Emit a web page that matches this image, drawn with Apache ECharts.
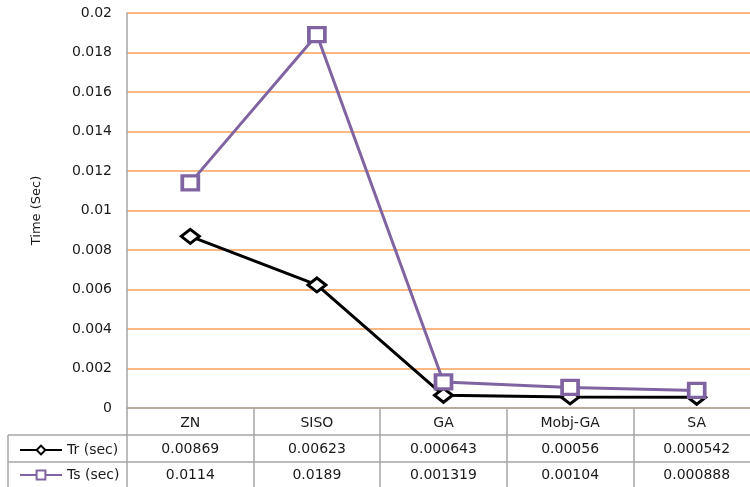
<!DOCTYPE html>
<html>
<head>
<meta charset="utf-8">
<script src="https://cdn.jsdelivr.net/npm/echarts@6/dist/echarts.min.js"></script>
<style>
  html, body { margin: 0; padding: 0; background: #fff; }
  #chart { width: 750px; height: 487px; }
</style>
</head>
<body>
<div id="chart"></div>
<script>
// Methods compared
const categories = ['ZN', 'SISO', 'GA', 'Mobj-GA', 'SA'];
// Rise time and settling time per method (seconds)
const trValues = [0.00869, 0.00623, 0.000643, 0.00056, 0.000542];
const tsValues = [0.0114, 0.0189, 0.001319, 0.00104, 0.000888];
// Table cell text, as printed
const trLabels = ['0.00869', '0.00623', '0.000643', '0.00056', '0.000542'];
const tsLabels = ['0.0114', '0.0189', '0.001319', '0.00104', '0.000888'];
const seriesNames = ['Tr (sec)', 'Ts (sec)'];

const FONT = '"DejaVu Sans", Verdana, sans-serif';
const TEXT = '#1a1a1a';
const RULE = '#a6a6a6';
const ORANGE = '#F9A15A';
const PURPLE = '#8064A2';

const chart = echarts.init(document.getElementById('chart'), null, { renderer: 'canvas' });

// One category axis per table row; the axis line draws the row's top rule
function tableAxis(offset, labels, margin) {
  return {
    type: 'category',
    data: categories,
    position: 'bottom',
    offset: offset,
    boundaryGap: true,
    axisLine: { show: true, lineStyle: { color: RULE, width: 1.5 } },
    axisTick: { show: false },
    axisLabel: {
      show: true,
      margin: margin,
      fontFamily: FONT,
      fontSize: 14,
      color: TEXT,
      formatter: (v, i) => labels ? labels[i] : v
    },
    splitLine: { show: false }
  };
}

const legendText = { fontFamily: FONT, fontSize: 14, color: TEXT };

const option = {
  animation: false,
  backgroundColor: '#fff',
  // the last column runs a little past the right edge of the canvas
  grid: { left: 127, width: 633, top: 13, bottom: 79, containLabel: false, outerBoundsMode: 'none' },
  legend: [
    {
      data: [seriesNames[0]], left: 14, top: 438, itemWidth: 42, itemHeight: 11,
      textStyle: legendText, selectedMode: false
    },
    {
      data: [seriesNames[1]], left: 14, top: 463, itemWidth: 42, itemHeight: 11,
      textStyle: legendText, selectedMode: false
    }
  ],
  xAxis: [
    Object.assign(tableAxis(0, null, 8), {
      axisTick: { show: true, length: 80, lineStyle: { color: RULE, width: 1.5 } }
    }),
    tableAxis(27, trLabels, 7),
    tableAxis(54, tsLabels, 6)
  ],
  yAxis: {
    type: 'value',
    min: 0,
    max: 0.02,
    interval: 0.002,
    name: 'Time (Sec)',
    nameLocation: 'middle',
    nameGap: 84,
    nameRotate: 90,
    nameTextStyle: { fontFamily: FONT, fontSize: 13, color: TEXT },
    axisLine: { show: true, lineStyle: { color: RULE, width: 1.5 } },
    axisTick: { show: false },
    axisLabel: {
      margin: 15,
      fontFamily: FONT,
      fontSize: 14,
      color: TEXT,
      formatter: v => String(+v.toFixed(3))
    },
    splitLine: { show: true, lineStyle: { color: ORANGE, width: 1.5 } }
  },
  series: [
    {
      name: seriesNames[0],
      type: 'line',
      data: trValues,
      color: '#000',
      lineStyle: { color: '#000', width: 3 },
      symbol: 'diamond',
      symbolSize: [18, 14],
      itemStyle: { color: '#fff', borderColor: '#000', borderWidth: 3 },
      z: 3
    },
    {
      name: seriesNames[1],
      type: 'line',
      data: tsValues,
      color: PURPLE,
      lineStyle: { color: PURPLE, width: 3 },
      symbol: 'rect',
      symbolSize: [16, 14],
      itemStyle: { color: '#fff', borderColor: PURPLE, borderWidth: 3.5 },
      z: 4
    }
  ],
  graphic: [
    // key column of the data table
    { type: 'line', shape: { x1: 8, y1: 435, x2: 127, y2: 435 }, style: { stroke: RULE, lineWidth: 1.5 } },
    { type: 'line', shape: { x1: 8, y1: 462, x2: 127, y2: 462 }, style: { stroke: RULE, lineWidth: 1.5 } },
    { type: 'line', shape: { x1: 8, y1: 435, x2: 8, y2: 487 }, style: { stroke: RULE, lineWidth: 1.5 } }
  ]
};

chart.setOption(option);
</script>
</body>
</html>
